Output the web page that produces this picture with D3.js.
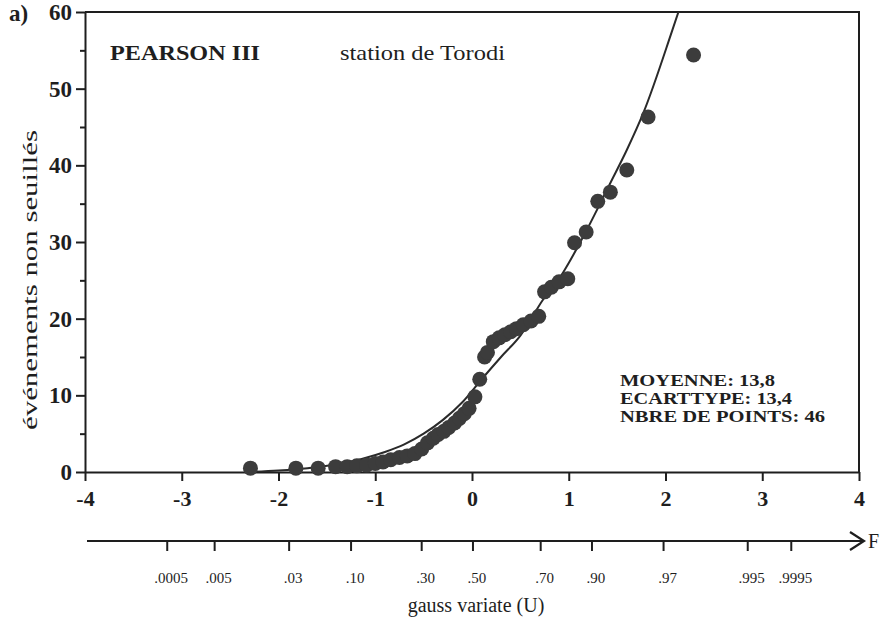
<!DOCTYPE html>
<html>
<head>
<meta charset="utf-8">
<script src="https://cdn.jsdelivr.net/npm/d3@7"></script>
<style>
  html, body { margin: 0; padding: 0; background: #fff; }
  svg { display: block; }
  text { font-family: "Liberation Serif", "Times New Roman", serif; fill: #1e1e1e; }
</style>
</head>
<body>
<svg id="chart" width="888" height="626"></svg>
<script>
// Observed events (gauss variate U, value) — 46 points
const obsU = [-2.29, -1.82, -1.59, -1.41, -1.29, -1.19, -1.09, -1.00, -0.92, -0.84, -0.75, -0.67,
  -0.59, -0.52, -0.46, -0.40, -0.35, -0.29, -0.24, -0.18, -0.13, -0.08, -0.03,
  0.03, 0.08, 0.13, 0.16, 0.22, 0.28, 0.34, 0.40, 0.46, 0.53, 0.61, 0.69, 0.75, 0.82, 0.90,
  0.99, 1.06, 1.18, 1.30, 1.43, 1.60, 1.82, 2.29];
const obsValue = [0.5, 0.5, 0.5, 0.7, 0.7, 0.8, 0.9, 1.1, 1.3, 1.6, 1.9, 2.1,
  2.4, 3.0, 3.8, 4.4, 4.9, 5.3, 5.8, 6.4, 7.0, 7.6, 8.3,
  9.8, 12.1, 15.0, 15.6, 17.0, 17.5, 17.9, 18.3, 18.7, 19.2, 19.7, 20.3, 23.5, 24.1, 24.8,
  25.2, 29.9, 31.3, 35.3, 36.5, 39.4, 46.3, 54.4];

// Fitted Pearson III curve
const fitU = [-2.3, -2.0, -1.7, -1.4, -1.14, -0.9, -0.7, -0.5, -0.3, -0.1, 0.1, 0.3, 0.5,
  0.73, 0.94, 1.15, 1.43, 1.60, 1.77, 2.07, 2.16];
const fitValue = [0.0, 0.2, 0.5, 1.0, 1.7, 2.6, 3.6, 5.0, 6.8, 9.1, 12.1, 15.0, 17.8,
  22.4, 26.0, 30.7, 37.7, 42.0, 46.8, 57.6, 61.0];

// Axes ticks
const uTicks = [-4, -3, -2, -1, 0, 1, 2, 3, 4];
const yTicks = [0, 5, 10, 15, 20, 25, 30, 35, 40, 45, 50, 55, 60];
// Non-exceedance probability scale (F) drawn beneath, placed at gauss variate positions
const fLabels = [".0005", ".005", ".03", ".10", ".30", ".50", ".70", ".90", ".97", ".995", ".9995"];
const fTickU = [-3.15, -2.66, -1.89, -1.25, -0.52, 0.01, 0.71, 1.24, 1.98, 2.85, 3.30];

const statLines = ["MOYENNE: 13,8", "ECARTTYPE: 13,4", "NBRE DE POINTS: 46"];
const statWidths = [155, 172, 205];

const svg = d3.select("#chart");
const plotL = 85, plotR = 859, plotT = 12, plotB = 472;

const x = d3.scaleLinear().domain([-4, 4]).range([plotL, plotR]);
const y = d3.scaleLinear().domain([0, 60]).range([plotB, plotT]);

const ink = "#1e1e1e";

// Frame (top and right sides)
svg.append("path")
  .attr("d", `M${plotL},${plotT}H${plotR}V${plotB}`)
  .attr("fill", "none").attr("stroke", ink).attr("stroke-width", 2);

// X axis
const xAxis = svg.append("g")
  .attr("transform", `translate(0,${plotB})`)
  .call(d3.axisBottom(x).tickValues(uTicks).tickSize(9).tickSizeOuter(0).tickPadding(9)
    .tickFormat(d3.format("d")));
xAxis.select(".domain").attr("stroke", ink).attr("stroke-width", 2);
xAxis.selectAll(".tick line").attr("stroke", ink).attr("stroke-width", 2);
xAxis.selectAll(".tick text")
  .attr("font-family", "Liberation Serif, Times New Roman, serif")
  .attr("font-size", 22).attr("font-weight", "bold").attr("fill", ink)
  .text(d => d < 0 ? "-" + Math.abs(d) : d);

// Y axis
const yAxis = svg.append("g")
  .attr("transform", `translate(${plotL},0)`)
  .call(d3.axisLeft(y).tickValues(yTicks).tickSize(9).tickSizeOuter(0).tickPadding(4)
    .tickFormat(d => d % 10 === 0 ? d : ""));
yAxis.select(".domain").attr("stroke", ink).attr("stroke-width", 2);
yAxis.selectAll(".tick line").attr("stroke", ink).attr("stroke-width", 2)
  .attr("x2", d => d % 10 === 0 ? -9 : -5);
yAxis.selectAll(".tick text")
  .attr("font-family", "Liberation Serif, Times New Roman, serif")
  .attr("font-size", 23).attr("font-weight", "bold").attr("fill", ink);

// Panel tag
svg.append("text").attr("x", 9).attr("y", 21)
  .attr("font-size", 23).attr("font-weight", "bold").text("a)");

// Y title
svg.append("text")
  .attr("transform", `translate(37,280) rotate(-90)`)
  .attr("text-anchor", "middle").attr("font-size", 22)
  .attr("textLength", 300).attr("lengthAdjust", "spacingAndGlyphs")
  .text("événements non seuillés");

// Titles inside the panel
svg.append("text").attr("x", 110).attr("y", 60)
  .attr("font-size", 21).attr("font-weight", "bold")
  .attr("textLength", 150).attr("lengthAdjust", "spacingAndGlyphs").text("PEARSON III");
svg.append("text").attr("x", 340).attr("y", 60)
  .attr("font-size", 21)
  .attr("textLength", 165).attr("lengthAdjust", "spacingAndGlyphs").text("station de Torodi");

// Statistics block
svg.append("g").selectAll("text").data(statLines).join("text")
  .attr("x", 620).attr("y", (d, i) => 386 + i * 18)
  .attr("font-size", 16).attr("font-weight", "bold")
  .attr("textLength", (d, i) => statWidths[i]).attr("lengthAdjust", "spacingAndGlyphs")
  .text(d => d);

// Fitted curve, clipped to the panel
svg.append("clipPath").attr("id", "panel")
  .append("rect").attr("x", plotL).attr("y", plotT).attr("width", plotR - plotL).attr("height", plotB - plotT);

const fit = fitU.map((u, i) => [u, fitValue[i]]);
svg.append("path")
  .datum(fit)
  .attr("clip-path", "url(#panel)")
  .attr("fill", "none").attr("stroke", "#2a2a2a").attr("stroke-width", 2)
  .attr("d", d3.line().x(d => x(d[0])).y(d => y(d[1])).curve(d3.curveMonotoneX));

// Observations
const obs = obsU.map((u, i) => [u, obsValue[i]]);
svg.append("g").selectAll("circle").data(obs).join("circle")
  .attr("cx", d => x(d[0])).attr("cy", d => y(d[1])).attr("r", 7.5)
  .attr("fill", "#3c3c3c");

// Probability (F) axis with arrow
const fY = 541;
svg.append("line").attr("x1", plotL + 2).attr("x2", 863).attr("y1", fY).attr("y2", fY)
  .attr("stroke", ink).attr("stroke-width", 2);
svg.append("path").attr("d", `M850,${fY - 9}L864,${fY}L850,${fY + 9}`)
  .attr("fill", "none").attr("stroke", ink).attr("stroke-width", 2.2);
svg.append("text").attr("x", 868).attr("y", fY + 7)
  .attr("font-family", "Liberation Sans, Arial, sans-serif").attr("font-size", 20).text("F");

const fTicks = svg.append("g");
fTicks.selectAll("line").data(fTickU).join("line")
  .attr("x1", d => x(d)).attr("x2", d => x(d)).attr("y1", fY).attr("y2", fY + 10)
  .attr("stroke", ink).attr("stroke-width", 2);
fTicks.selectAll("text").data(fTickU).join("text")
  .attr("x", d => x(d) + 4).attr("y", 583)
  .attr("text-anchor", "middle").attr("font-size", 15)
  .text((d, i) => fLabels[i]);

// X title
svg.append("text").attr("x", 476).attr("y", 612)
  .attr("text-anchor", "middle").attr("font-size", 20)
  .text("gauss variate (U)");
</script>
</body>
</html>
